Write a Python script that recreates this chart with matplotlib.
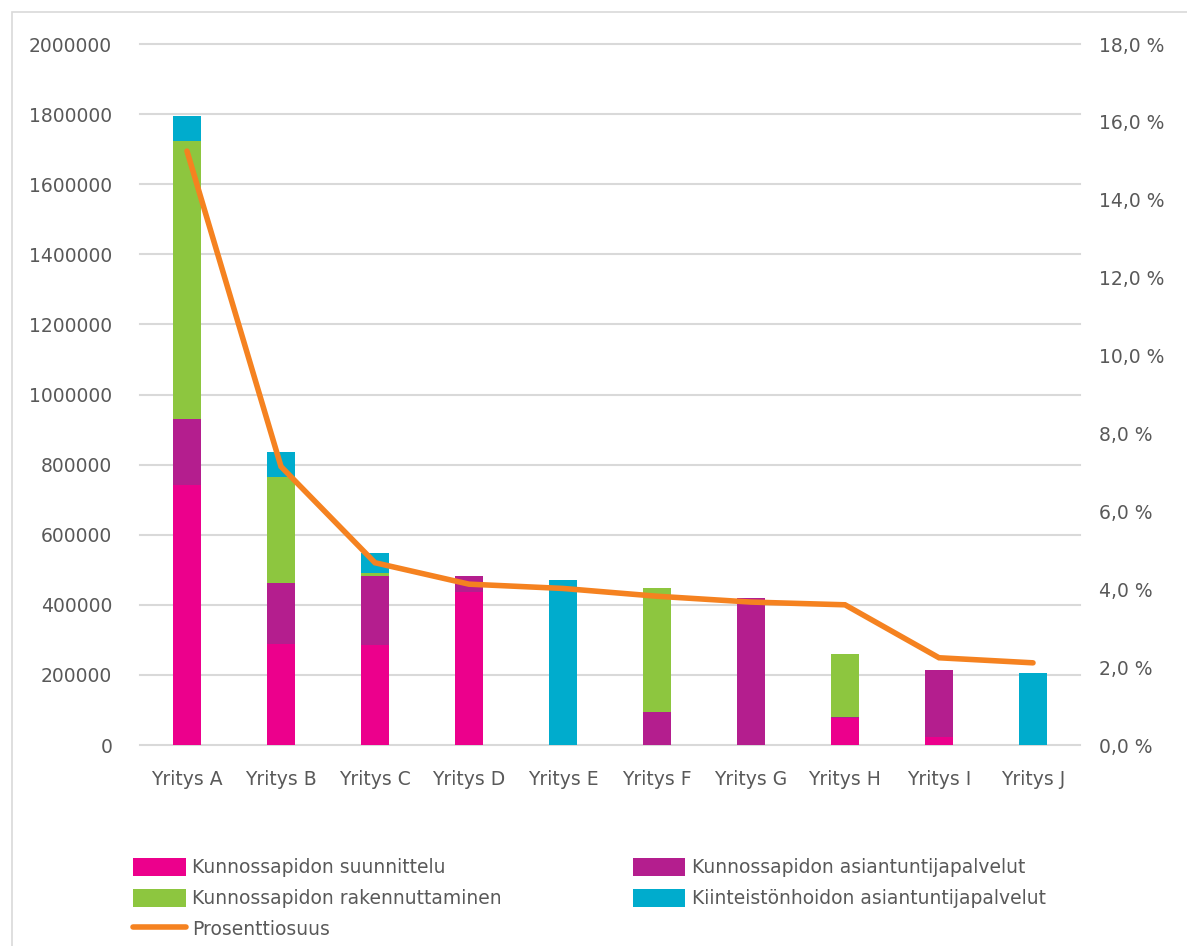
import matplotlib
matplotlib.use("Agg")
import matplotlib.pyplot as plt
from matplotlib.patches import Rectangle
from matplotlib.ticker import FuncFormatter

companies = ["Yritys A", "Yritys B", "Yritys C", "Yritys D", "Yritys E",
             "Yritys F", "Yritys G", "Yritys H", "Yritys I", "Yritys J"]
suunnittelu = [741000, 288000, 284000, 437000, 0, 0, 0, 78000, 24000, 0]
asiantuntija = [188000, 173000, 197000, 46000, 0, 95000, 420000, 3000, 189000, 0]
rakennuttaminen = [793000, 303000, 10000, 0, 0, 352000, 0, 180000, 0, 0]
kiinteisto = [74000, 71000, 56000, 0, 471000, 0, 0, 0, 0, 204000]
osuus = [15.25, 7.15, 4.68, 4.13, 4.02, 3.82, 3.67, 3.60, 2.24, 2.11]

series = [
    ("Kunnossapidon suunnittelu", suunnittelu, "#EC008C"),
    ("Kunnossapidon asiantuntijapalvelut", asiantuntija, "#B41E8E"),
    ("Kunnossapidon rakennuttaminen", rakennuttaminen, "#8DC63F"),
    ("Kiinteistönhoidon asiantuntijapalvelut", kiinteisto, "#00ACCD"),
]

TXT = "#595959"
GRID = "#D9D9D9"
FS = 13.5

fig = plt.figure(figsize=(11.87, 9.46), dpi=100)
fig.patches.append(Rectangle((12 / 1187, -0.1), 1.2, (946 - 12) / 946 + 0.1,
                             transform=fig.transFigure, fill=False,
                             edgecolor=GRID, linewidth=1.2))
ax = fig.add_axes([140 / 1187, 201 / 946, 940 / 1187, 701 / 946])

x = list(range(len(companies)))
bottom = [0] * len(companies)
handles = {}
for name, vals, col in series:
    h = ax.bar(x, vals, 0.3, bottom=bottom, color=col, label=name, zorder=2)
    handles[name] = h
    bottom = [b + v for b, v in zip(bottom, vals)]

ax.set_xlim(-0.5, 9.5)
ax.set_ylim(0, 2000000)
ax.set_yticks(range(0, 2000001, 200000))
ax.yaxis.set_major_formatter(FuncFormatter(lambda v, p: f"{int(v)}"))
ax.set_xticks(x)
ax.set_xticklabels(companies)
ax.grid(axis="y", color=GRID, linewidth=1.5, zorder=0)
for gl in ax.get_ygridlines():
    gl.set_clip_on(False)
ax.set_axisbelow(True)
for s in ax.spines.values():
    s.set_visible(False)
ax.tick_params(length=0, labelsize=FS, labelcolor=TXT)
ax.tick_params(axis="y", pad=20)
ax.tick_params(axis="x", pad=18)

ax2 = ax.twinx()
ln, = ax2.plot(x, osuus, color="#F58220", linewidth=4,
               solid_capstyle="round", solid_joinstyle="miter",
               label="Prosenttiosuus", zorder=3)
ax2.set_ylim(0, 18)
ax2.set_yticks(range(0, 19, 2))
ax2.yaxis.set_major_formatter(FuncFormatter(lambda v, p: f"{v:.1f} %".replace(".", ",")))
for s in ax2.spines.values():
    s.set_visible(False)
ax2.tick_params(length=0, labelsize=FS, labelcolor=TXT, pad=14)

hs = [handles["Kunnossapidon suunnittelu"], handles["Kunnossapidon rakennuttaminen"], ln,
      handles["Kunnossapidon asiantuntijapalvelut"],
      handles["Kiinteistönhoidon asiantuntijapalvelut"]]
labels = ["Kunnossapidon suunnittelu", "Kunnossapidon rakennuttaminen", "Prosenttiosuus",
          "Kunnossapidon asiantuntijapalvelut",
          "Kiinteistönhoidon asiantuntijapalvelut"]
fig.legend(hs, labels, loc="upper left", bbox_to_anchor=(133 / 1187, 1 - 858 / 946),
           ncol=2, frameon=False, fontsize=FS, labelcolor=TXT,
           handlelength=2.8, handleheight=1.1, handletextpad=0.35,
           columnspacing=7.0, labelspacing=0.6, borderpad=0, borderaxespad=0)

fig.savefig("out.png", dpi=100)
